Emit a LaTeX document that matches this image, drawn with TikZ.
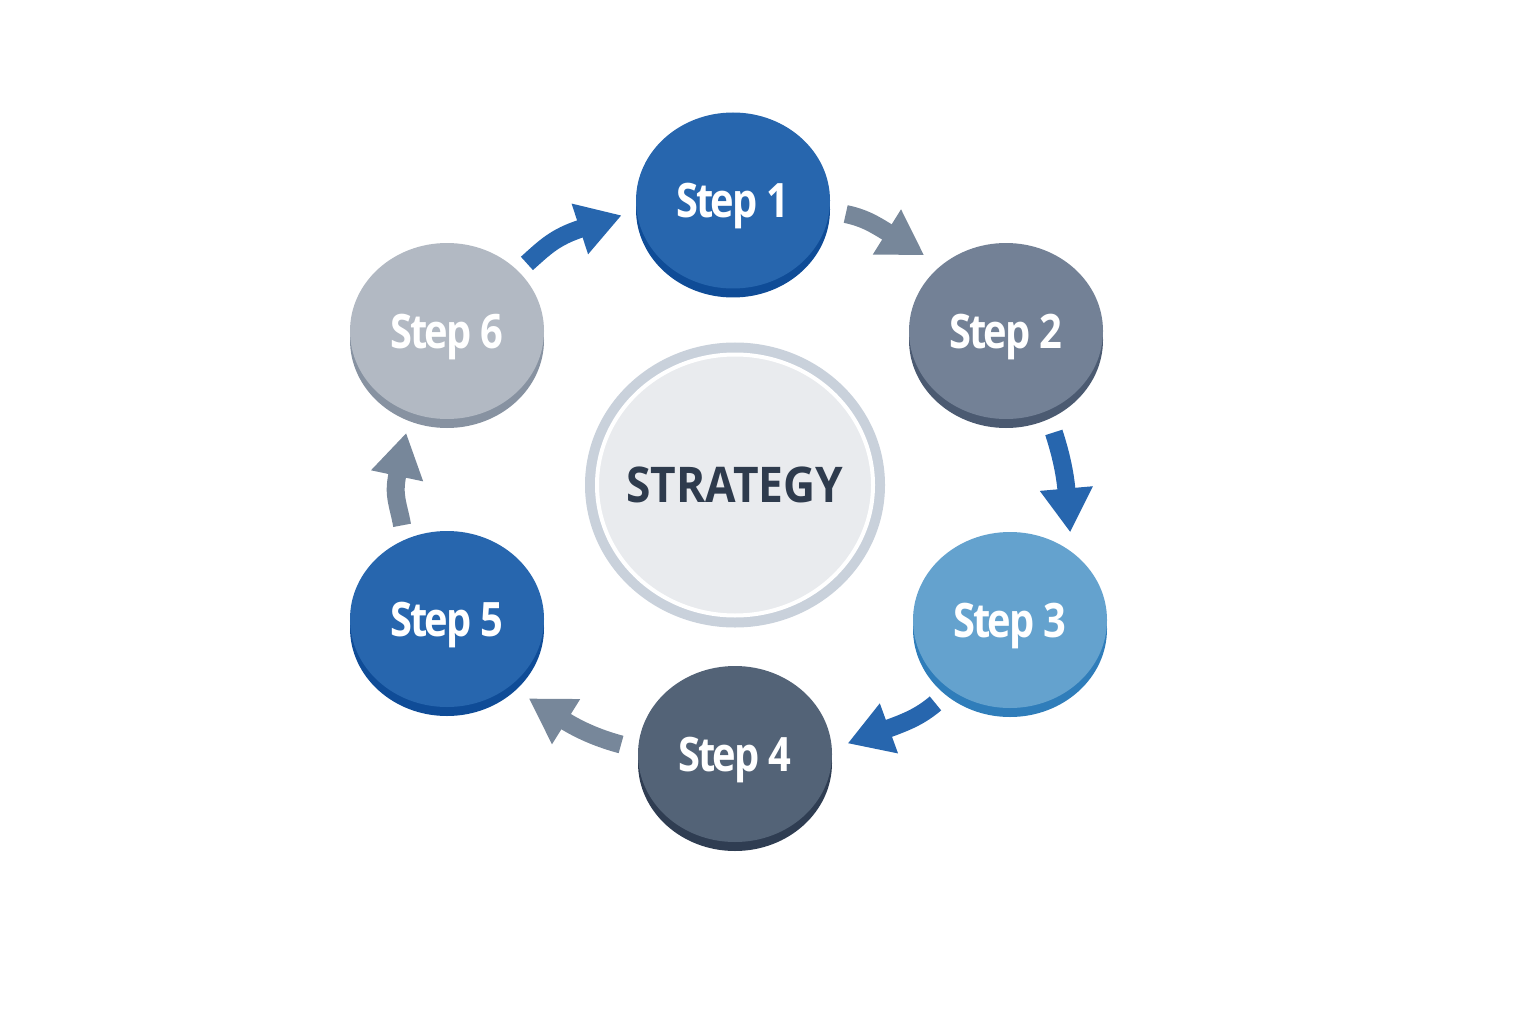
\documentclass[tikz,border=0pt]{standalone}
\usepackage{fontspec}
\usepackage{xcolor}
\usepackage{tikz}
\usetikzlibrary{positioning, arrows.meta, shadows}
\usetikzlibrary{shapes,shapes.geometric}
\newfontfamily\stepfont{Open Sans}[FakeStretch=0.84, LetterSpace=-5, WordSpace=1.2]
\newfontfamily\stratfont{Open Sans}[FakeStretch=0.9]

\definecolor{blueface}{HTML}{2766AE}
\definecolor{bluerim}{HTML}{0F4C97}
\definecolor{grayface}{HTML}{738196}
\definecolor{grayrim}{HTML}{4B5A71}
\definecolor{lightface}{HTML}{64A2CE}
\definecolor{lightrim}{HTML}{2F7DBA}
\definecolor{darkface}{HTML}{536377}
\definecolor{darkrim}{HTML}{2F3D52}
\definecolor{paleface}{HTML}{B2B9C3}
\definecolor{palerim}{HTML}{8792A1}
\definecolor{arrgray}{HTML}{77879A}
\definecolor{arrblue}{HTML}{2766AE}
\definecolor{ringgray}{HTML}{C9D1DB}
\definecolor{stratfill}{HTML}{E9EBEE}
\definecolor{strattext}{HTML}{2E3B4D}

\begin{document}
\begin{tikzpicture}[
		stepnode/.style 2 args={ellipse, fill=#1, draw=none, minimum width=1.94cm, minimum height=1.76cm, inner sep=0pt, text depth=0pt,
			general shadow={shadow xshift=0cm, shadow yshift=-0.09cm, fill=#2, draw=none, opacity=1},
			text=white, font=\stepfont\bfseries\fontsize{13.5}{15}\selectfont},
		stratnode/.style={ellipse, fill=stratfill, draw=white, line width=0.04cm, minimum width=2.76cm, minimum height=2.61cm, inner sep=0pt,
			preaction={draw=ringgray, line width=0.24cm}},
		strattxt/.style={text=strattext, font=\stratfont\bfseries\fontsize{14}{16}\selectfont},
		arr/.style={draw=#1, line width=0.18cm, -{Triangle[length=0.44cm, width=0.5cm]}}
	]
			\useasboundingbox (0,0) rectangle (15.36,10.24);
			
			\node[stratnode, label={[strattxt]center:STRATEGY}] (strat) at (7.35,5.39) {};
			\node[stepnode={blueface}{bluerim}, on grid, above = 2.845cm of strat, xshift=-0.02cm] (s1) {Step 1};
			\node[stepnode={grayface}{grayrim}, on grid, above right = 1.54cm and 2.71cm of strat] (s2) {Step 2};
			\node[stepnode={lightface}{lightrim}, on grid, below right = 1.35cm and 2.75cm of strat] (s3) {Step 3};
			\node[stepnode={darkface}{darkrim}, on grid, below = 2.69cm of strat] (s4) {Step 4};
			\node[stepnode={blueface}{bluerim}, on grid, below left = 1.34cm and 2.88cm of strat] (s5) {Step 5};
			\node[stepnode={paleface}{palerim}, on grid, above left = 1.54cm and 2.88cm of strat] (s6) {Step 6};
			
			% shorten moves only the end points of a curve, so the control distances
			% are the shortening plus a bit of the visible shaft
			\draw[arr=arrgray, shorten <=0.16cm, shorten >=0.19cm] (s1.-6) to[out=-12, in=148, out distance=0.34cm, in distance=0.8cm] (s2.135);
			\draw[arr=arrblue, shorten <=0.22cm, shorten >=0.19cm] (s2.-63) to[out=-72, in=95, out distance=0.4cm, in distance=0.82cm] (s3.48);
			\draw[arr=arrblue, shorten <=0.2cm, shorten >=0.16cm] (s3.-130) to[out=-140, in=20, out distance=0.4cm, in distance=0.8cm] (s4.3);
			\draw[arr=arrgray, shorten <=0.17cm, shorten >=0.22cm] (s4.177) to[out=165, in=-32, out distance=0.37cm, in distance=0.85cm] (s5.-47);
			\draw[arr=arrgray, shorten <=0.14cm, shorten >=0.2cm] (s5.118) to[out=100, in=-102, out distance=0.36cm, in distance=0.85cm] (s6.-114);
			\draw[arr=arrblue, shorten <=0.11cm, shorten >=0.15cm] (s6.40) to[out=42, in=198, out distance=0.36cm, in distance=0.85cm] (s1.186);
			
		\end{tikzpicture}
\end{document}
